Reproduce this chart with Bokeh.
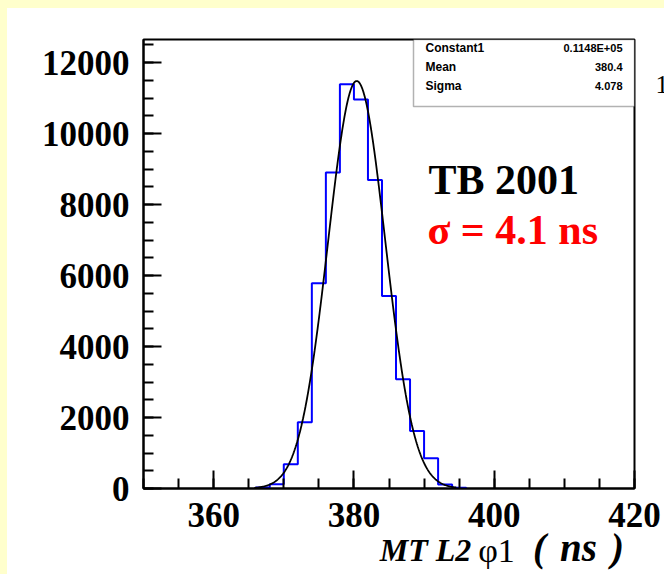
import numpy as np
from bokeh.plotting import figure
from bokeh.models import (Range1d, SingleIntervalTicker, FixedTicker, Label,
                          BoxAnnotation, LinearAxis)
from bokeh.embed import file_html
from bokeh.resources import INLINE

# ---------------- data ----------------
bin_lo = [366, 368, 370, 372, 374, 376, 378, 380, 382, 384, 386, 388, 390, 392, 394]
bin_width = 2
counts = [30, 118, 680, 1870, 5780, 8900, 11390, 10960, 8690, 5420, 3080, 1620, 850, 110, 20]

# Gaussian fit parameters shown in the stats box
fit_constant = 11480.0
fit_mean = 380.4
fit_sigma = 4.078
fit_range = (365.8, 394.6)

stat_names = ["Constant1", "Mean", "Sigma"]
stat_values = ["0.1148E+05", "380.4", "4.078"]

x_ticks_interval = 20
y_ticks_interval = 2000
X0, X1 = 350, 420
Y0, Y1 = 0, 12650

# ---------------- geometry (page pixels) ----------------
OFF_X, OFF_Y = 7, 8                  # yellow strip (left / top)
FL, FR, FT, FB = 143, 634, 39, 488   # frame edges on the page
PW, PH = 664, 574

def dx(px):
    return X0 + (px - FL) / (FR - FL) * (X1 - X0)

def dy(py):
    return Y0 + (FB - py) / (FB - FT) * (Y1 - Y0)

p = figure(width=PW, height=PH, x_range=Range1d(X0, X1), y_range=Range1d(Y0, Y1),
           output_backend="svg", toolbar_location=None,
           min_border_left=FL - OFF_X, min_border_right=PW - (FR - OFF_X),
           min_border_top=FT - OFF_Y, min_border_bottom=PH - (FB - OFF_Y))
p.styles = {"border-left": "7px solid #FFFFCC", "border-top": "8px solid #FFFFCC"}
p.background_fill_color = "white"
p.border_fill_color = "white"
p.outline_line_color = "black"
p.outline_line_width = 2
p.grid.visible = False

# axes
for ax, interval in ((p.xaxis, x_ticks_interval), (p.yaxis, y_ticks_interval)):
    ax.ticker = SingleIntervalTicker(interval=interval, num_minor_ticks=4)
    ax.axis_line_width = 2
    ax.major_tick_in = 18
    ax.major_tick_out = 0
    ax.minor_tick_in = 10
    ax.minor_tick_out = 0
    ax.major_tick_line_width = 2
    ax.minor_tick_line_width = 2
    ax.major_label_text_font = "Liberation Serif"
    ax.major_label_text_font_style = "bold"
    ax.major_label_text_font_size = "35px"
    ax.major_label_text_color = "black"
p.xaxis.major_label_standoff = 14
p.yaxis.major_label_standoff = 14

# x axis title pieces (mixed styles) drawn as tick labels of extra bare axes
def bare_axis(positions, texts, size, style, standoff):
    ax = LinearAxis(ticker=FixedTicker(ticks=list(positions), minor_ticks=[]),
                    major_label_overrides=dict(zip(positions, texts)))
    ax.axis_line_color = None
    ax.major_tick_line_color = None
    ax.minor_tick_line_color = None
    ax.major_tick_in = 0
    ax.major_tick_out = 0
    ax.minor_tick_in = 0
    ax.minor_tick_out = 0
    ax.major_label_text_font = "Liberation Serif"
    ax.major_label_text_font_style = style
    ax.major_label_text_font_size = size
    ax.major_label_text_color = "black"
    ax.major_label_standoff = standoff
    return ax

p.add_layout(bare_axis([dx(425)], ["MT L2"], "32px", "bold italic", 2), "below")
p.add_layout(bare_axis([dx(496)], ["φ1"], "34px", "normal", -39), "below")
p.add_layout(bare_axis([dx(539), dx(578), dx(617)], ["(", "ns", ")"],
                       "39px", "bold italic", -46), "below")

# the clipped "1" at the right edge, as a label of a bare right axis
p.add_layout(bare_axis([dy(84)], ["1"], "26px", "normal", 21), "right")

# histogram outline
xs, ys = [bin_lo[0]], [0]
for lo, c in zip(bin_lo, counts):
    xs += [lo, lo + bin_width]
    ys += [c, c]
xs.append(bin_lo[-1] + bin_width)
ys.append(0)
p.line(xs, ys, line_color="#0000FF", line_width=2)

# gaussian fit curve
gx = np.linspace(fit_range[0], fit_range[1], 400)
gy = fit_constant * np.exp(-0.5 * ((gx - fit_mean) / fit_sigma) ** 2)
p.line(gx, gy, line_color="black", line_width=1.8)

# stats box
p.add_layout(BoxAnnotation(left=dx(413), right=X1, bottom=dy(106), top=Y1,
                           fill_color="white", fill_alpha=1.0,
                           line_color="black", line_width=1.5))
for i, (n, v) in enumerate(zip(stat_names, stat_values)):
    yc = dy(47 + 19 * i)
    p.add_layout(Label(x=dx(425), y=yc, text=n, text_align="left", text_baseline="middle",
                       text_font="Liberation Sans", text_font_size="12px",
                       text_font_style="bold", text_color="black"))
    p.add_layout(Label(x=dx(622), y=yc, text=v, text_align="right", text_baseline="middle",
                       text_font="Liberation Sans", text_font_size="11px",
                       text_font_style="bold", text_color="black"))

# annotations
p.add_layout(Label(x=dx(428), y=dy(179), text="TB 2001", text_align="left",
                   text_baseline="alphabetic", text_font="Liberation Serif",
                   text_font_style="bold", text_font_size="42px", text_color="black"))
p.add_layout(Label(x=dx(427), y=dy(229), text="σ = 4.1 ns", text_align="left",
                   text_baseline="alphabetic", text_font="Liberation Serif",
                   text_font_style="bold", text_font_size="42px", text_color="#FF0000"))

open("out.html", "w").write(file_html(p, INLINE))
